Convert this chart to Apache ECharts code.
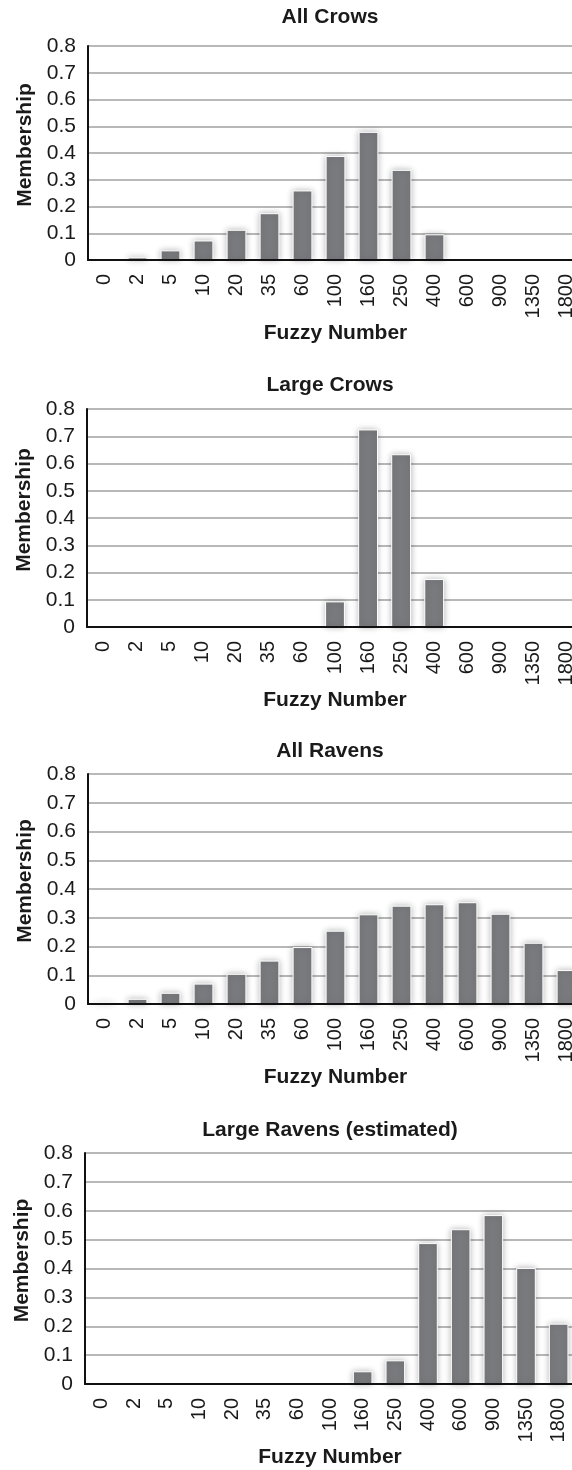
<!DOCTYPE html>
<html>
<head>
<meta charset="utf-8">
<script src="https://cdn.jsdelivr.net/npm/echarts@6/dist/echarts.min.js"></script>
<style>
html,body{margin:0;padding:0;background:#fff;overflow:hidden;}
#c{width:600px;height:1470px;}
</style>
</head>
<body>
<div id="c"></div>
<script>
const categories = ['0','2','5','10','20','35','60','100','160','250','400','600','900','1350','1800'];
const yTicks = [0,0.1,0.2,0.3,0.4,0.5,0.6,0.7,0.8];
const titles = ['All Crows','Large Crows','All Ravens','Large Ravens (estimated)'];
const allCrows    = [0, 0.01, 0.036, 0.073, 0.113, 0.175, 0.26, 0.389, 0.479, 0.337, 0.096, 0, 0, 0, 0];
const largeCrows  = [0, 0, 0, 0, 0, 0, 0, 0.094, 0.725, 0.634, 0.176, 0, 0, 0, 0];
const allRavens   = [0.005, 0.018, 0.039, 0.071, 0.105, 0.151, 0.198, 0.255, 0.312, 0.342, 0.347, 0.354, 0.314, 0.213, 0.118];
const largeRavens = [0, 0, 0, 0, 0, 0, 0, 0, 0.044, 0.082, 0.488, 0.536, 0.585, 0.402, 0.209];
const seriesData = [allCrows, largeCrows, allRavens, largeRavens];

const FONT = '"Liberation Sans", Arial, sans-serif';
const grids = [
  {left: 88, top: 46,  width: 495, height: 214},
  {left: 87, top: 409, width: 496, height: 218},
  {left: 88, top: 774, width: 495, height: 230},
  {left: 85, top: 1153, width: 490, height: 231}
];
const titleY = [19, 387, 753, 1132];

const chart = echarts.init(document.getElementById('c'), null, {renderer: 'canvas'});
const option = {
  animation: false,
  backgroundColor: '#fff',
  title: titles.map((t, i) => ({
    text: t, left: 330, top: titleY[i] - 12, textAlign: 'center', padding: 0,
    textStyle: {fontFamily: FONT, fontWeight: 'bold', fontSize: 21, color: '#1a1a1a'}
  })),
  grid: grids,
  xAxis: grids.map((g, i) => ({
    type: 'category', gridIndex: i, data: categories, z: 5,
    name: 'Fuzzy Number', nameLocation: 'middle', nameGap: 62,
    nameTextStyle: {fontFamily: FONT, fontWeight: 'bold', fontSize: 21, color: '#1a1a1a'},
    axisLine: {lineStyle: {color: '#111', width: 2}},
    axisTick: {show: false},
    axisLabel: {interval: 0, rotate: 90, margin: 14, fontFamily: FONT, fontSize: 20, color: '#1a1a1a'}
  })),
  yAxis: grids.map((g, i) => ({
    type: 'value', gridIndex: i, min: 0, max: 0.8, interval: 0.1,
    name: 'Membership', nameLocation: 'middle', nameGap: 52,
    nameTextStyle: {fontFamily: FONT, fontWeight: 'bold', fontSize: 21, color: '#1a1a1a', padding: [0, 0, 0, 16]},
    axisLine: {show: true, lineStyle: {color: '#111', width: 2}},
    axisTick: {show: false},
    axisLabel: {margin: 12, fontFamily: FONT, fontSize: 21, color: '#1a1a1a',
      formatter: v => { const t = yTicks.find(x => Math.abs(x - v) < 1e-6); return t === 0 ? '0' : (t !== undefined ? t.toFixed(1) : ''); }},
    splitLine: {lineStyle: {color: '#a0a0a0', width: 1.5}}
  })),
  series: seriesData.map((d, i) => ({
    type: 'bar', xAxisIndex: i, yAxisIndex: i, barWidth: '60%',
    data: d.map(v => v === 0 ? {value: v, itemStyle: {borderWidth: 0, shadowBlur: 0}} : v),
    itemStyle: {color: '#797a7e', borderColor: '#ffffff', borderWidth: 1,
      shadowBlur: 6, shadowColor: 'rgba(0,0,0,0.28)'}
  }))
};
chart.setOption(option);
</script>
</body>
</html>
